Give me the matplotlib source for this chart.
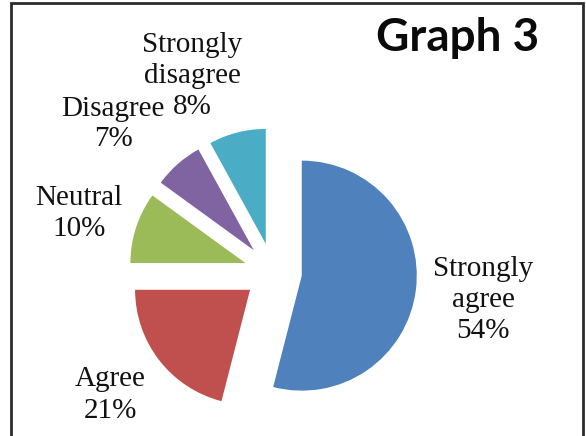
import matplotlib
matplotlib.use("Agg")
import matplotlib.pyplot as plt
from matplotlib.patches import Rectangle

# survey answers, clockwise from 12 o'clock
categories = ["Strongly agree", "Agree", "Neutral", "Disagree", "Strongly disagree"]
shares = [54, 21, 10, 7, 8]
label_text = ["Strongly\nagree", "Agree", "Neutral", "Disagree", "Strongly\ndisagree"]
colors = ["#4F81BD", "#C0504D", "#9BBB59", "#8064A2", "#4BACC6"]

W, H = 586, 436
fig = plt.figure(figsize=(W / 100, H / 100), dpi=100)
ax = fig.add_axes([0, 0, 1, 1])

# work in pixel units, y measured from the top
def py(y):
    return H - y

# every slice pulled out by the same distance (pie's explode is absolute)
ax.pie(shares, colors=colors, startangle=90, counterclock=False,
       explode=[29] * len(shares), radius=115, center=(273, py(272)),
       wedgeprops=dict(linewidth=0), frame=True)
ax.set_xlim(0, W)
ax.set_ylim(0, H)
ax.set_aspect("equal")
ax.axis("off")

# data labels
label_pos = [(483, 300), (110, 395), (79, 214), (113, 124), (192, 76)]
for txt, v, (x, y) in zip(label_text, shares, label_pos):
    ax.text(x, py(y), f"{txt}\n{v}%", ha="center", va="center",
            fontsize=21, family="Liberation Serif", linespacing=1.25,
            color="#111111")

ax.text(458, py(38), "Graph 3", ha="center", va="center", fontsize=33,
        fontweight="bold", family="Lato", color="#0a0a0a")

# outer frame, open at the bottom edge
ax.add_patch(Rectangle((11, -10), 572, py(3) + 10, fill=False,
                       edgecolor="#2b2b2b", linewidth=2))

fig.savefig("out.png", dpi=100, facecolor="white")
